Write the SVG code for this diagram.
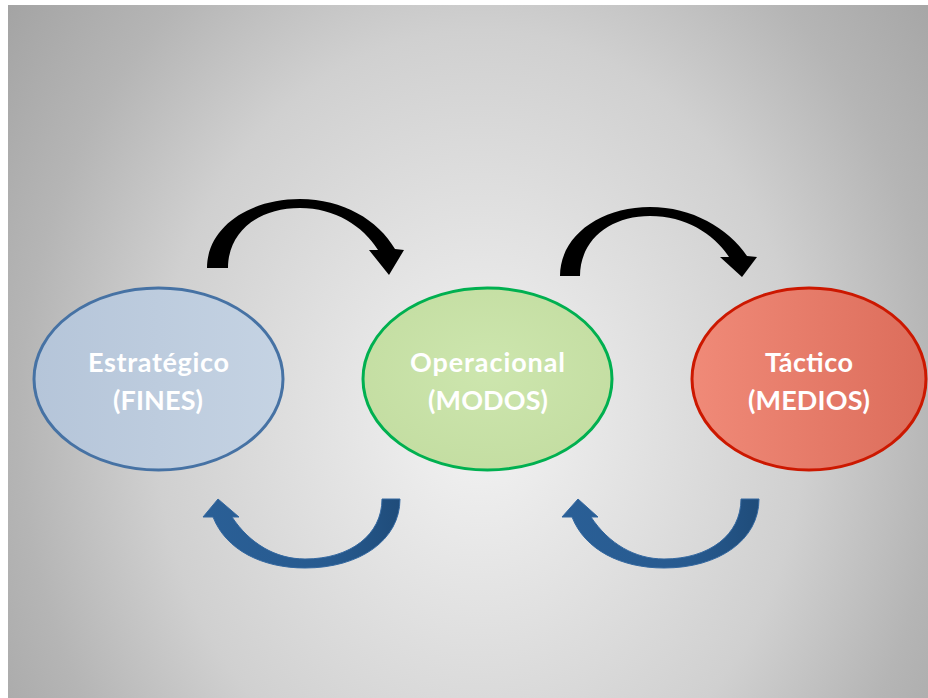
<svg xmlns="http://www.w3.org/2000/svg" width="928" height="698" viewBox="0 0 928 698">
  <defs>
    <radialGradient id="bg" gradientUnits="userSpaceOnUse" cx="480" cy="420" r="590" gradientTransform="translate(480 420) scale(1 1.2) translate(-480 -420)">
      <stop offset="0" stop-color="#f3f3f3"/>
      <stop offset="0.55" stop-color="#d0d0d0"/>
      <stop offset="0.78" stop-color="#b5b5b5"/>
      <stop offset="1" stop-color="#a3a3a3"/>
    </radialGradient>
    <linearGradient id="gBlue" x1="0" y1="0" x2="1" y2="0">
      <stop offset="0" stop-color="#b5c5d9"/>
      <stop offset="1" stop-color="#c5d3e3"/>
    </linearGradient>
    <radialGradient id="gGreen" cx="0.5" cy="0.45" r="0.6">
      <stop offset="0" stop-color="#cde6ae"/>
      <stop offset="1" stop-color="#c3dda1"/>
    </radialGradient>
    <linearGradient id="gRed" x1="0" y1="0" x2="1" y2="0">
      <stop offset="0" stop-color="#f08a78"/>
      <stop offset="1" stop-color="#dc6d5b"/>
    </linearGradient>
    <linearGradient id="gArrow" x1="0" y1="0" x2="1" y2="0">
      <stop offset="0" stop-color="#2a5f96"/>
      <stop offset="0.65" stop-color="#275a8f"/>
      <stop offset="1" stop-color="#1f4c7a"/>
    </linearGradient>
  </defs>
  <style>
    .lbl { font-family: Lato, "Open Sans", "Liberation Sans", sans-serif; font-weight: bold; font-size: 27px; fill: #ffffff; text-anchor: middle; }
    .node { stroke-width: 3; }
    .blk { fill: #000000; }
    .blu { fill: url(#gArrow); stroke: #3468a0; stroke-width: 1; }
  </style>
  <rect x="0" y="0" width="928" height="698" fill="#ffffff"/>
  <rect x="8" y="5" width="920" height="693" fill="url(#bg)"/>

  <g id="connectors">
    <path class="blk" d="M207,268 C207,228 248,199 300,199 C343,199 378,220 395,249 L404,250 L389,275 L369,250 L378,250 C363,226 335,208 300,208 C258,208 228,232 228,268 Z"/>
    <path class="blk" d="M560,276 C560,236 600,207 650,207 C692,207 728,228 747,256 L757,257 L742,277 L720,257 L729,257 C714,234 686,216 650,216 C610,216 580,240 580,276 Z"/>
    <path class="blu" d="M400,499 C400,540 360,568 305,568 C262,568 226,550 213,517 L203,517 L218,499 L239,517 L232,517 C250,544 276,559 305,559 C350,559 382,535 382,499 Z"/>
    <path class="blu" d="M759,499 C759,540 719,568 664,568 C621,568 585,550 572,517 L562,517 L578,499 L598,517 L591,517 C609,544 635,559 664,559 C709,559 741,535 741,499 Z"/>
  </g>

  <g id="estrategico">
    <ellipse class="node" cx="158.5" cy="379" rx="124.5" ry="91" fill="url(#gBlue)" stroke="#4672a4"/>
    <text class="lbl" x="158.5" y="372" textLength="141">Estratégico</text>
    <text class="lbl" x="158" y="410" textLength="90">(FINES)</text>
  </g>
  <g id="operacional">
    <ellipse class="node" cx="487.5" cy="379" rx="124.5" ry="91" fill="url(#gGreen)" stroke="#00b050"/>
    <text class="lbl" x="487.5" y="372" textLength="155">Operacional</text>
    <text class="lbl" x="488" y="410" textLength="120">(MODOS)</text>
  </g>
  <g id="tactico">
    <ellipse class="node" cx="809" cy="379" rx="117" ry="91" fill="url(#gRed)" stroke="#cc1800"/>
    <text class="lbl" x="809" y="372" textLength="88">Táctico</text>
    <text class="lbl" x="809" y="410" textLength="122">(MEDIOS)</text>
  </g>
</svg>
